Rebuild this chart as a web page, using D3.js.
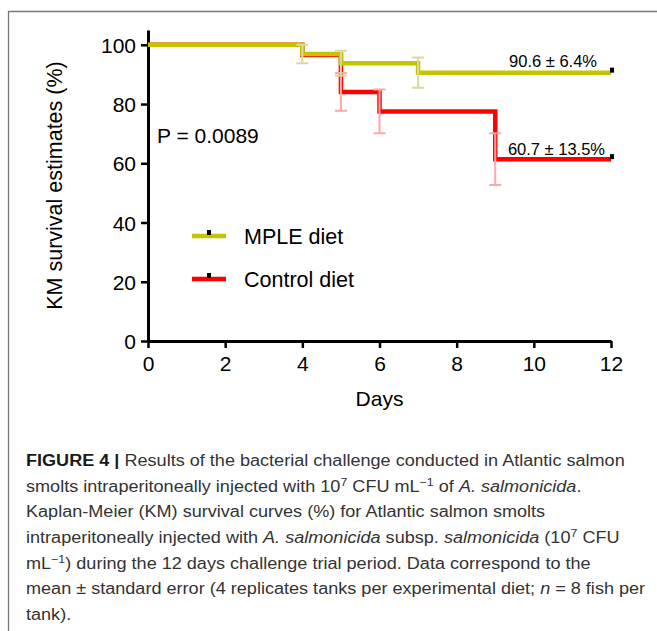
<!DOCTYPE html>
<html>
<head>
<meta charset="utf-8">
<script src="https://cdn.jsdelivr.net/npm/d3@7.9.0/dist/d3.min.js"></script>
<style>
  html, body { margin: 0; padding: 0; background: #fff; }
  svg { display: block; font-family: "Liberation Sans", Arial, sans-serif; }
</style>
</head>
<body>
<svg id="chart" width="657" height="631"></svg>
<script>
// survival curves (KM estimates, %)
const mpleDays = [0, 4, 5, 7, 12];
const mpleSurvival = [100, 96.9, 93.8, 90.6, 90.6];
const controlDays = [0, 4, 5, 6, 9, 12];
const controlSurvival = [100, 96.6, 84.1, 77.5, 61.4, 61.4];

// mean +- standard error bars
const mpleErrDays = [4, 5, 7];
const mpleErrMean = [96.9, 93.8, 90.6];
const mpleErrSE = [3.1, 4.2, 5.1];
const controlErrDays = [5, 6, 9];
const controlErrMean = [84.1, 77.5, 61.4];
const controlErrSE = [6.4, 7.4, 8.7];

const seriesNames = ['MPLE diet', 'Control diet'];
const endLabels = ['90.6 \u00b1 6.4%', '60.7 \u00b1 13.5%'];
const xTicks = [0, 2, 4, 6, 8, 10, 12];
const yTicks = [0, 20, 40, 60, 80, 100];
const pValueText = 'P = 0.0089';

const captionLines = [
  [['b', 'FIGURE 4 |'], ['', ' Results of the bacterial challenge conducted in Atlantic salmon']],
  [['', 'smolts intraperitoneally injected with 10'], ['sup', '7'], ['', ' CFU mL'], ['sup', '\u22121'], ['', ' of '], ['i', 'A. salmonicida'], ['', '.']],
  [['', 'Kaplan-Meier (KM) survival curves (%) for Atlantic salmon smolts']],
  [['', 'intraperitoneally injected with '], ['i', 'A. salmonicida'], ['', ' subsp. '], ['i', 'salmonicida'], ['', ' (10'], ['sup', '7'], ['', ' CFU']],
  [['', 'mL'], ['sup', '\u22121'], ['', ') during the 12 days challenge trial period. Data correspond to the']],
  [['', 'mean \u00b1 standard error (4 replicates tanks per experimental diet; '], ['i', 'n'], ['', ' = 8 fish per']],
  [['', 'tank).']]
];

const colors = { mple: '#c4c400', control: '#ff0000', mpleErr: '#dadaa0', controlErr: '#ffa8a8' };

const svg = d3.select('#chart');

// frame
svg.append('path')
  .attr('d', 'M8.5,631 V11.5 H657')
  .attr('fill', 'none')
  .attr('stroke', '#777')
  .attr('stroke-width', 1.3);

const x = d3.scaleLinear().domain([0, 12]).range([148, 611]);
const y = d3.scaleLinear().domain([0, 105]).range([341, 30]);

// axes
const xAxis = svg.append('g')
  .attr('transform', `translate(0,${y(0)})`)
  .call(d3.axisBottom(x).tickValues(xTicks).tickSize(7).tickSizeOuter(0).tickPadding(8));
const yAxis = svg.append('g')
  .attr('transform', `translate(${x(0)},0)`)
  .call(d3.axisLeft(y).tickValues(yTicks).tickSize(7).tickSizeOuter(0).tickPadding(5));

[xAxis, yAxis].forEach(g => {
  g.select('.domain').attr('stroke', '#000').attr('stroke-width', 3);
  g.selectAll('.tick line').attr('stroke', '#000').attr('stroke-width', 2.5);
  g.selectAll('.tick text')
    .attr('fill', '#000')
    .style('font-size', '21px')
    .style('font-family', '"Liberation Sans", Arial, sans-serif');
});
xAxis.selectAll('.tick text').attr('dy', '0.71em');
yAxis.selectAll('.tick text').attr('dy', '0.36em');

// axis titles
svg.append('text')
  .attr('x', x(6))
  .attr('y', 406)
  .attr('text-anchor', 'middle')
  .style('font-size', '21px')
  .text('Days');

svg.append('text')
  .attr('transform', `translate(62,${(y(0) + y(105)) / 2}) rotate(-90)`)
  .attr('text-anchor', 'middle')
  .style('font-size', '21.5px')
  .text('KM survival estimates (%)');

const line = d3.line()
  .x(d => x(d[0]))
  .y(d => y(d[1]))
  .curve(d3.curveStepAfter);

const series = [
  { key: 'control', days: controlDays, vals: controlSurvival, eDays: controlErrDays, eMean: controlErrMean, eSE: controlErrSE },
  { key: 'mple', days: mpleDays, vals: mpleSurvival, eDays: mpleErrDays, eMean: mpleErrMean, eSE: mpleErrSE }
];

series.forEach(s => {
  svg.append('path')
    .datum(d3.zip(s.days, s.vals))
    .attr('d', line)
    .attr('fill', 'none')
    .attr('stroke', colors[s.key])
    .attr('stroke-width', 4.5);
});

series.forEach(s => {
  const g = svg.append('g')
    .attr('stroke', colors[s.key + 'Err'])
    .attr('stroke-width', 2)
    .attr('fill', 'none');
  s.eDays.forEach((d, i) => {
    const cx = x(d);
    const top = y(s.eMean[i] + s.eSE[i]);
    const bot = y(s.eMean[i] - s.eSE[i]);
    g.append('path')
      .attr('d', `M${cx},${top} V${bot} M${cx - 6},${top} H${cx + 6} M${cx - 6},${bot} H${cx + 6}`);
  });
  // censor mark at the end of the curve
  const last = s.days.length - 1;
  svg.append('rect')
    .attr('x', x(s.days[last]) - 1)
    .attr('y', y(s.vals[last]) - 5)
    .attr('width', 4)
    .attr('height', 5)
    .attr('fill', '#000');
});

// end labels
svg.append('text')
  .attr('x', x(12) - 14)
  .attr('y', y(mpleSurvival[mpleSurvival.length - 1]) - 6)
  .attr('text-anchor', 'end')
  .style('font-size', '16.5px')
  .text(endLabels[0]);
svg.append('text')
  .attr('x', x(12) - 6)
  .attr('y', y(controlSurvival[controlSurvival.length - 1]) - 4)
  .attr('text-anchor', 'end')
  .style('font-size', '16.5px')
  .text(endLabels[1]);

// p value
svg.append('text')
  .attr('x', 157)
  .attr('y', 143)
  .style('font-size', '21px')
  .text(pValueText);

// legend
const legendKeys = ['mple', 'control'];
legendKeys.forEach((k, i) => {
  const ly = 236 + i * 43;
  svg.append('line')
    .attr('x1', 192).attr('x2', 226)
    .attr('y1', ly).attr('y2', ly)
    .attr('stroke', colors[k])
    .attr('stroke-width', 4.5);
  svg.append('rect')
    .attr('x', 207).attr('y', ly - 6)
    .attr('width', 4).attr('height', 5)
    .attr('fill', '#000');
  svg.append('text')
    .attr('x', 244)
    .attr('y', ly + 8)
    .style('font-size', '21.5px')
    .text(seriesNames[i]);
});

// caption (slightly stretched to match the journal font's width)
const cap = svg.append('g')
  .attr('fill', '#333')
  .attr('transform', 'translate(26,0) scale(1.13,1)');
captionLines.forEach((segs, i) => {
  const t = cap.append('text')
    .attr('x', 0)
    .attr('y', 466 + i * 25.7)
    .style('font-size', '16px');
  let pendingDy = 0;
  segs.forEach(([kind, str]) => {
    const ts = t.append('tspan').text(str);
    if (kind === 'b') ts.attr('font-weight', 'bold').attr('fill', '#1a1a1a');
    if (kind === 'i') ts.attr('font-style', 'italic');
    if (kind === 'sup') {
      ts.attr('dy', pendingDy - 6).style('font-size', '11px');
      pendingDy = 6;
    } else if (pendingDy) {
      ts.attr('dy', pendingDy);
      pendingDy = 0;
    }
  });
});
</script>
</body>
</html>
